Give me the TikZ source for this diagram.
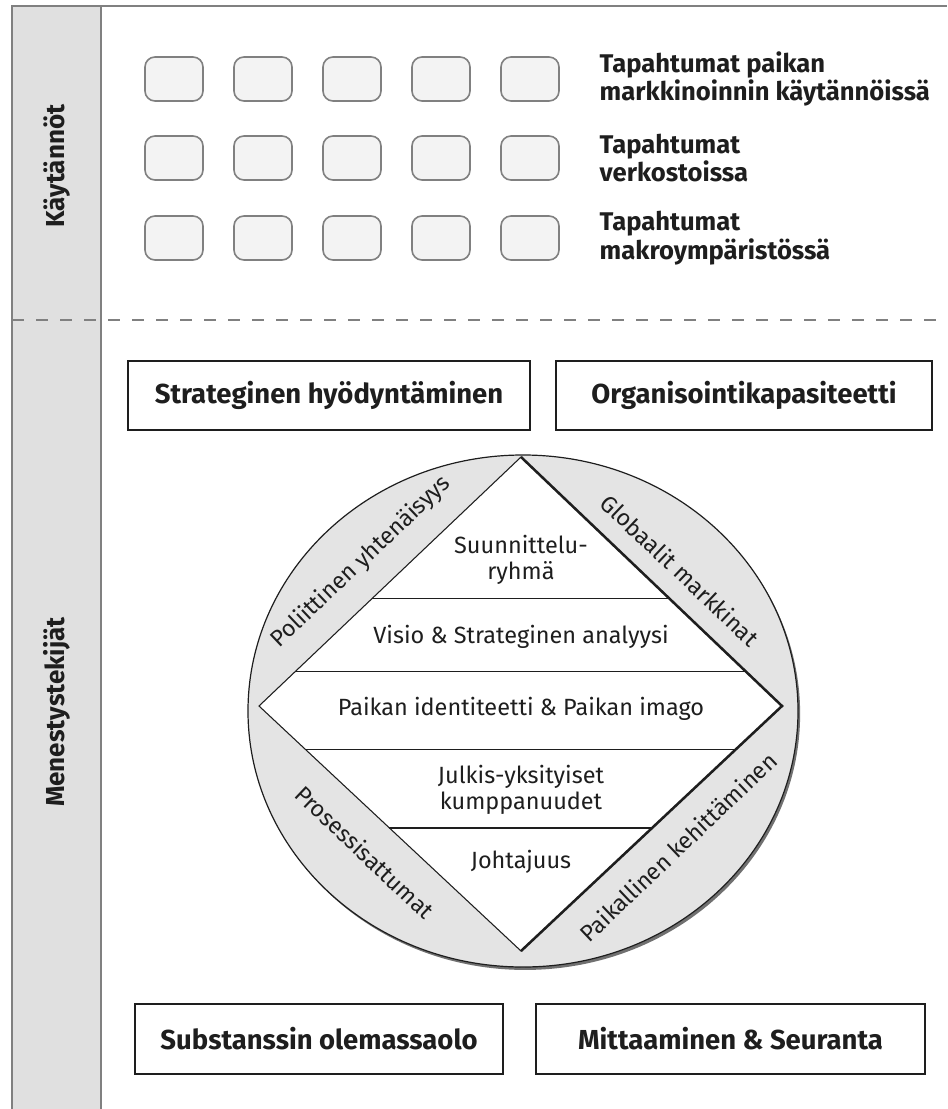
\documentclass[tikz,border=0pt]{standalone}
\usepackage{fontspec}
\setmainfont{Fira Sans}
\usetikzlibrary{shadows,positioning,calc}
\definecolor{sidegray}{RGB}{224,224,224}
\definecolor{ringgray}{RGB}{228,228,228}
\definecolor{boxgray}{RGB}{243,243,243}
\definecolor{linegray}{RGB}{128,128,128}
\definecolor{inkgray}{RGB}{30,30,30}
\tikzstyle{eventbox} = [rectangle, rounded corners=7.5pt, minimum width=43.5pt, minimum height=33pt, draw=linegray, fill=boxgray, line width=1.2pt]
\tikzstyle{eventlabel} = [anchor=west, align=left, text=inkgray, font=\bfseries\fontsize{19.2}{21.5}\selectfont]
\tikzstyle{factorbox} = [rectangle, draw=inkgray, fill=white, line width=1.4pt, minimum height=52pt, text=inkgray, font=\bfseries\fontsize{20.6}{24}\selectfont]
\tikzstyle{sidelabel} = [rotate=90, text=inkgray, font=\bfseries\fontsize{19.5}{23}\selectfont]
\tikzstyle{layertext} = [align=center, text=inkgray, font=\fontsize{17.6}{19.5}\selectfont]
\tikzstyle{ringtext} = [text=inkgray, font=\fontsize{17.4}{20}\selectfont]

\begin{document}
\begin{tikzpicture}[x=0.75pt, y=-0.75pt]
\useasboundingbox (0,0) rectangle (947,1109);

% Side bar and frame
\fill[sidegray] (12,6) rectangle (101,1109);
\draw[linegray, line width=1.4pt] (12,1109) -- (12,6) -- (947,6);
\draw[linegray, line width=1.4pt] (101,6) -- (101,1109);
\draw[linegray, line width=1.2pt, dash pattern=on 9pt off 9pt] (12,320) -- (947,320);
\node[sidelabel] (practices) at (57,166) {Käytännöt};
\node[sidelabel] (success) at (57,712) {Menestystekijät};

% Events
\foreach \row/\ry in {1/79, 2/158, 3/238}
  \foreach \col in {0,...,4}
    \node[eventbox] (ev\row\col) at (174+89*\col,\ry) {};
\node[eventlabel] (marketing) at (595,79) {Tapahtumat paikan\\markkinoinnin käytännöissä};
\node[eventlabel] (networks) at (595,158) {Tapahtumat\\verkostoissa};
\node[eventlabel] (macro) at (595,238) {Tapahtumat\\makroympäristössä};

% Factor boxes
\node[factorbox, minimum width=301.5pt] (exploit) at (329,395.5) {Strateginen hyödyntäminen};
\node[factorbox, minimum width=282pt] (capacity) at (744,395.5) {Organisointikapasiteetti};
\node[factorbox, minimum width=276pt] (substance) at (319,1039) {Substanssin olemassaolo};
\node[factorbox, minimum width=291.75pt] (measure) at (730.5,1039) {Mittaaminen \& Seuranta};

% Circle and diamond
\fill[ringgray, draw=inkgray, line width=0.9pt, drop shadow={shadow xshift=1.6pt, shadow yshift=-2.2pt, fill=black!70, opacity=0.8}] (523,711) ellipse [x radius=275, y radius=256];
\coordinate (dtop) at (521,457);
\coordinate (dleft) at (259,706);
\coordinate (dbot) at (521,951);
\coordinate (dright) at (782,706);
\draw[fill=white, draw=inkgray, line width=0.8pt] (dtop) -- (dleft) -- (dbot) -- (dright) -- cycle;
\draw[inkgray, line width=1.9pt, line join=miter] (dtop) -- (dright) -- (dbot);
\foreach \t in {0.43,0.137}
  \draw[inkgray, line width=0.8pt] ($(dleft)!\t!(dtop)$) -- ($(dright)!\t!(dtop)$);
\foreach \t in {0.176,0.498}
  \draw[inkgray, line width=0.8pt] ($(dleft)!\t!(dbot)$) -- ($(dright)!\t!(dbot)$);

\node[layertext] (team) at (521,560) {Suunnittelu-\\ryhmä};
\node[layertext] (vision) at (521,637) {Visio \& Strateginen analyysi};
\node[layertext] (identity) at (521,709) {Paikan identiteetti \& Paikan imago};
\node[layertext] (partners) at (521,790) {Julkis-yksityiset\\kumppanuudet};
\node[layertext] (leadership) at (521,862) {Johtajuus};

\node[ringtext, rotate=43.5] (political) at (361,562) {Poliittinen yhtenäisyys};
\node[ringtext, rotate=-43.5] (global) at (680,570) {Globaalit markkinat};
\node[ringtext, rotate=-43.5] (process) at (365,852) {Prosessisattumat};
\node[ringtext, rotate=43.5] (local) at (678,847) {Paikallinen kehittäminen};
\end{tikzpicture}
\end{document}
